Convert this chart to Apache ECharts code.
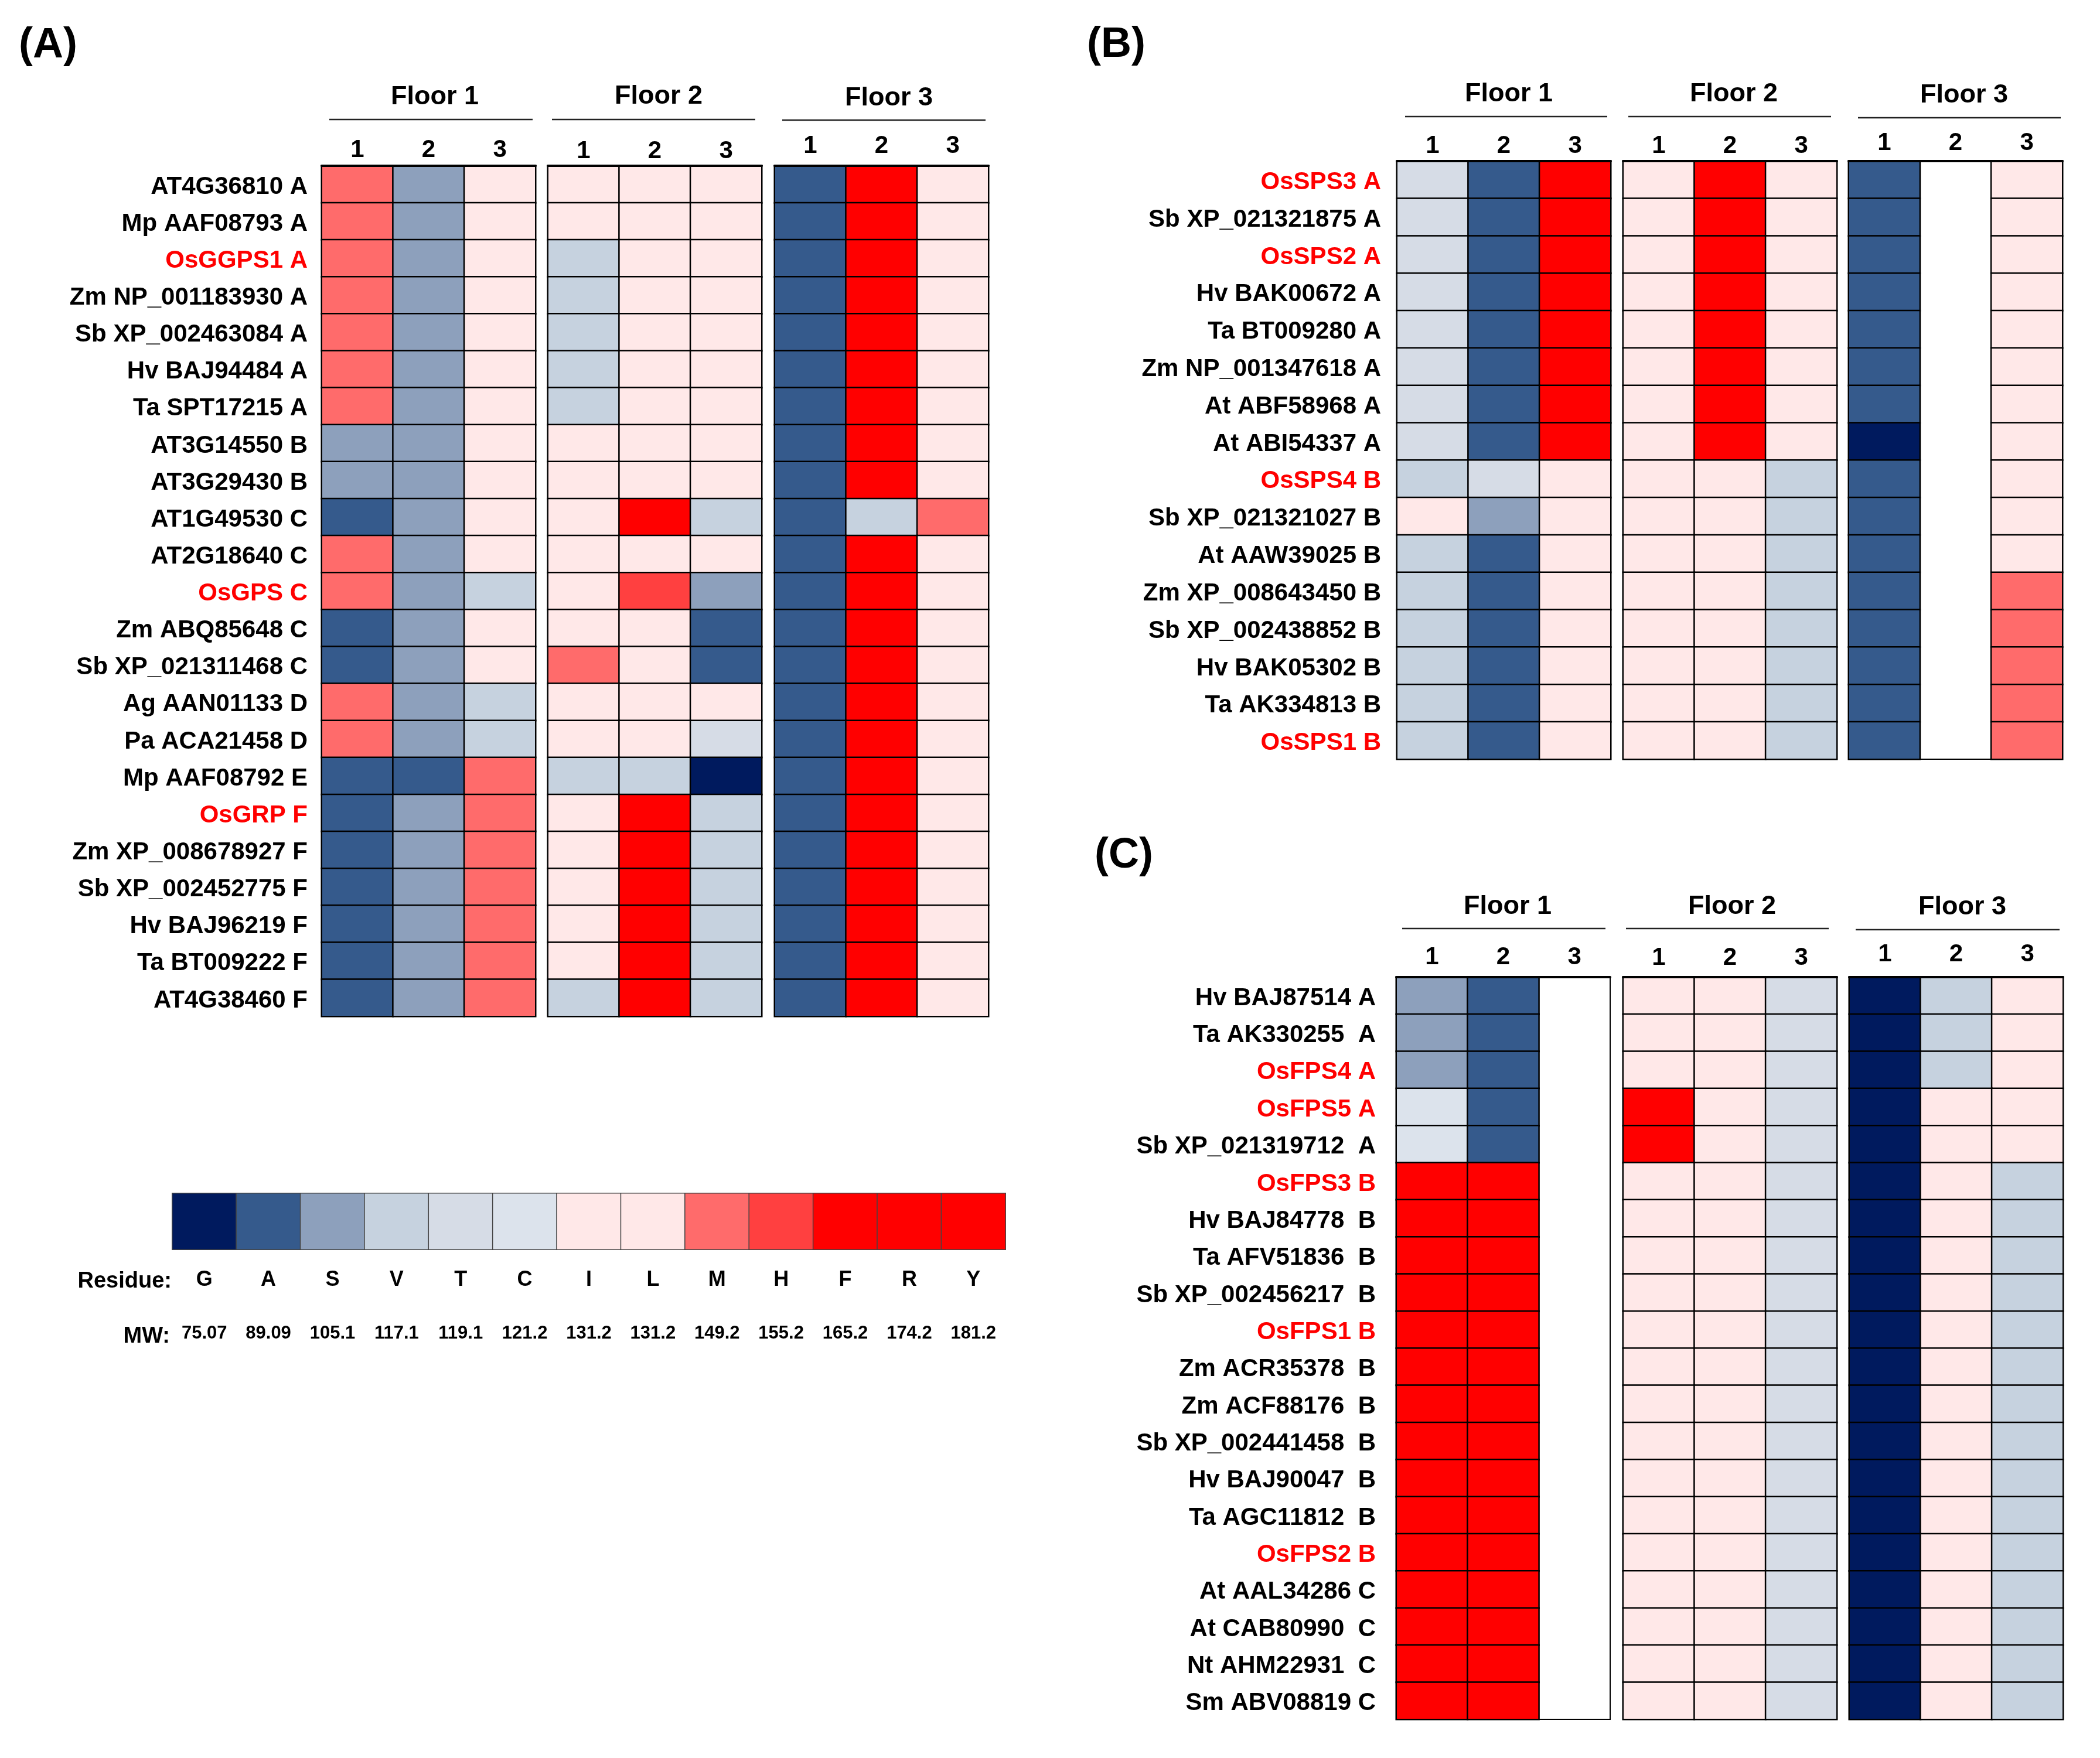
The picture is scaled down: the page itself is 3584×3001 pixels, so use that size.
<!DOCTYPE html>
<html><head><meta charset="utf-8">
<style>html,body{margin:0;padding:0;background:#fff}#c{width:3584px;height:3001px}</style>
<script src="https://cdn.jsdelivr.net/npm/echarts@6/dist/echarts.min.js"></script>
</head><body><div id="c"></div>
<script>
// Residue scale
const residues = ['G','A','S','V','T','C','I','L','M','H','F','R','Y'];
const mwValues = [75.07,89.09,105.1,117.1,119.1,121.2,131.2,131.2,149.2,155.2,165.2,174.2,181.2];
const residueColors = ['#001A5E','#355A8C','#8DA0BC','#C6D2DF','#D6DCE6','#DCE3EC','#FFE8E8','#FFE8E8','#FF6B6B','#FF4040','#FF0000','#FF0000','#FF0000'];
const floorNames = ['Floor 1','Floor 2','Floor 3'];
const positionLabels = ['1','2','3'];

// Panel A
const namesA = ['AT4G36810 A','Mp AAF08793 A','OsGGPS1 A','Zm NP_001183930 A','Sb XP_002463084 A','Hv BAJ94484 A','Ta SPT17215 A','AT3G14550 B','AT3G29430 B','AT1G49530 C','AT2G18640 C','OsGPS C','Zm ABQ85648 C','Sb XP_021311468 C','Ag AAN01133 D','Pa ACA21458 D','Mp AAF08792 E','OsGRP F','Zm XP_008678927 F','Sb XP_002452775 F','Hv BAJ96219 F','Ta BT009222 F','AT4G38460 F'];
const floor1A = ['MSI','MSI','MSI','MSI','MSI','MSI','MSI','SSI','SSI','ASI','MSI','MSV','ASI','ASI','MSV','MSV','AAM','ASM','ASM','ASM','ASM','ASM','ASM'];
const floor2A = ['III','III','VII','VII','VII','VII','VII','III','III','IFV','III','IHS','IIA','MIA','III','IIT','VVG','IFV','IFV','IFV','IFV','IFV','VFV'];
const floor3A = ['AFI','AFI','AFI','AFI','AFI','AFI','AFI','AFI','AFI','AVM','AFI','AFI','AFI','AFI','AFI','AFI','AFI','AFI','AFI','AFI','AFI','AFI','AFI'];

// Panel B
const namesB = ['OsSPS3 A','Sb XP_021321875 A','OsSPS2 A','Hv BAK00672 A','Ta BT009280 A','Zm NP_001347618 A','At ABF58968 A','At ABI54337 A','OsSPS4 B','Sb XP_021321027 B','At AAW39025 B','Zm XP_008643450 B','Sb XP_002438852 B','Hv BAK05302 B','Ta AK334813 B','OsSPS1 B'];
const floor1B = ['TAF','TAF','TAF','TAF','TAF','TAF','TAF','TAF','VTI','ISI','VAI','VAI','VAI','VAI','VAI','VAI'];
const floor2B = ['IFI','IFI','IFI','IFI','IFI','IFI','IFI','IFI','IIV','IIV','IIV','IIV','IIV','IIV','IIV','IIV'];
const floor3B = ['A-I','A-I','A-I','A-I','A-I','A-I','A-I','G-I','A-I','A-I','A-I','A-M','A-M','A-M','A-M','A-M'];

// Panel C
const namesC = ['Hv BAJ87514 A','Ta AK330255  A','OsFPS4 A','OsFPS5 A','Sb XP_021319712  A','OsFPS3 B','Hv BAJ84778  B','Ta AFV51836  B','Sb XP_002456217  B','OsFPS1 B','Zm ACR35378  B','Zm ACF88176  B','Sb XP_002441458  B','Hv BAJ90047  B','Ta AGC11812  B','OsFPS2 B','At AAL34286 C','At CAB80990  C','Nt AHM22931  C','Sm ABV08819 C'];
const floor1C = ['SA-','SA-','SA-','CA-','CA-','FF-','FF-','FF-','FF-','FF-','FF-','FF-','FF-','FF-','FF-','FF-','FF-','FF-','FF-','FF-'];
const floor2C = ['IIT','IIT','IIT','FIT','FIT','IIT','IIT','IIT','IIT','IIT','IIT','IIT','IIT','IIT','IIT','IIT','IIT','IIT','IIT','IIT'];
const floor3C = ['GVI','GVI','GVI','GII','GII','GIV','GIV','GIV','GIV','GIV','GIV','GIV','GIV','GIV','GIV','GIV','GIV','GIV','GIV','GIV'];

const FONT = '"Liberation Sans", Arial, sans-serif';
const mwOf = r => mwValues[residues.indexOf(r)];

// Layout only (no data)
const panels = [
  {letter:'(A)', lx:77, ly:73, names:namesA, floors:[floor1A,floor2A,floor3A], top:283, bottom:1735, margin:24,
   lefts:[549,935,1322], width:365, tickM:[6,4,13],
   fx:[737,1119,1512], fy:[161,160,163], lines:[[562,909,204],[942,1289,204],[1335,1682,205]]},
  {letter:'(B)', lx:1900, ly:72, names:namesB, floors:[floor1B,floor2B,floor3B], top:275, bottom:1296, margin:27,
   lefts:[2384,2770,3155], width:365, tickM:[5,5,10],
   fx:[2570,2954,3347], fy:[156,156,158], lines:[[2398,2743,199],[2779,3125,199],[3171,3517,201]]},
  {letter:'(C)', lx:1913, ly:1456, names:namesC, floors:[floor1C,floor2C,floor3C], top:1668, bottom:2935, margin:35,
   lefts:[2383,2770,3156], width:365, tickM:[13,12,18],
   fx:[2568,2951,3344], fy:[1543,1543,1544], lines:[[2393,2740,1585],[2775,3121,1585],[3167,3515,1587]]}
];

const grid=[], xAxis=[], yAxis=[], series=[], title=[], graphic=[];
const lineOf = (x1,x2,y)=>({type:'line',shape:{x1,y1:y,x2,y2:y},style:{stroke:'#222',lineWidth:2.5}});
const textTitle = (text,cx,cy,size)=>({text,left:cx,top:cy,textAlign:'center',textVerticalAlign:'middle',
   textStyle:{fontFamily:FONT,fontWeight:'bold',fontSize:size,color:'#000'}});

panels.forEach(p=>{
  title.push(textTitle(p.letter,p.lx,p.ly,72));
  p.floors.forEach((rows,f)=>{
    const g=grid.length;
    grid.push({left:p.lefts[f],top:p.top,width:p.width,height:p.bottom-p.top,show:true,borderColor:'#000',borderWidth:2,backgroundColor:'#fff',containLabel:false});
    xAxis.push({type:'category',gridIndex:g,position:'top',data:positionLabels,z:5,
      axisLine:{show:true,lineStyle:{color:'#000',width:4}},axisTick:{show:false},splitLine:{show:false},
      axisLabel:{fontFamily:FONT,fontWeight:'bold',fontSize:42,color:'#000',margin:p.tickM[f]}});
    yAxis.push({type:'category',gridIndex:g,inverse:true,data:p.names,
      axisLine:{show:false},axisTick:{show:false},splitLine:{show:false},
      axisLabel:f===0?{show:true,interval:0,fontFamily:FONT,fontWeight:'bold',fontSize:42,margin:p.margin,
        verticalAlign:'top',lineHeight:9,
        color:v=>v.startsWith('Os')?'#FF0000':'#000'}:{show:false}});
    const data=[];
    rows.forEach((row,y)=>[...row].forEach((r,x)=>{ if(r!=='-') data.push([x,y,mwOf(r)]); }));
    series.push({type:'heatmap',xAxisIndex:g,yAxisIndex:g,data,progressive:0,animation:false,
      itemStyle:{borderColor:'#000',borderWidth:2.5},emphasis:{disabled:true}});
    title.push(textTitle(floorNames[f],p.fx[f],p.fy[f],45));
    graphic.push(lineOf(...p.lines[f]));
  });
});

// Legend strip
const lg=grid.length;
grid.push({left:294,top:2037,width:1422,height:96,show:false});
xAxis.push({type:'category',gridIndex:lg,position:'bottom',data:residues,
  axisLine:{show:false},axisTick:{show:false},
  axisLabel:{interval:0,fontFamily:FONT,fontWeight:'bold',fontSize:36,color:'#000',margin:34}});
xAxis.push({type:'category',gridIndex:lg,position:'bottom',offset:128,data:mwValues.map(String),
  axisLine:{show:false},axisTick:{show:false},
  axisLabel:{interval:0,fontFamily:FONT,fontWeight:'bold',fontSize:31,color:'#000',margin:0}});
yAxis.push({type:'category',gridIndex:lg,data:['scale'],axisLine:{show:false},axisTick:{show:false},axisLabel:{show:false}});
series.push({type:'heatmap',xAxisIndex:xAxis.length-2,yAxisIndex:yAxis.length-1,progressive:0,animation:false,
  data:residues.map((r,i)=>[i,0,mwValues[i]]),
  itemStyle:{borderColor:'#444',borderWidth:1.5},emphasis:{disabled:true}});
title.push({text:'Residue:',left:288,top:2183,textAlign:'right',textVerticalAlign:'middle',textStyle:{fontFamily:FONT,fontWeight:'bold',fontSize:38,color:'#000'}});
title.push({text:'MW:',left:285,top:2277,textAlign:'right',textVerticalAlign:'middle',textStyle:{fontFamily:FONT,fontWeight:'bold',fontSize:38,color:'#000'}});

const pieces=residues.map((r,i)=>({value:mwValues[i],color:residueColors[i]}));

const chart=echarts.init(document.getElementById('c'),null,{renderer:'canvas'});
chart.setOption({
  animation:false,backgroundColor:'#fff',title,grid,xAxis,yAxis,series,
  visualMap:{type:'piecewise',show:false,dimension:2,pieces,seriesIndex:series.map((_,i)=>i)},
  graphic:{elements:graphic}
});
</script></body></html>
